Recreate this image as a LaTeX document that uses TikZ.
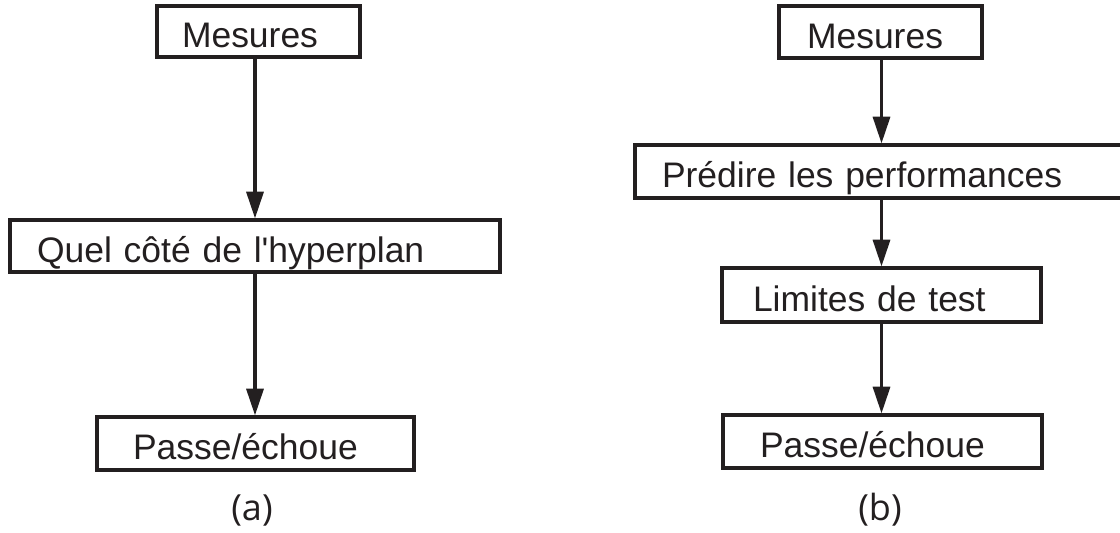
\documentclass[tikz,border=0pt]{standalone}
\usepackage{fontspec}
\setmainfont{Liberation Sans}
\newfontfamily\capfont{Open Sans}
\usetikzlibrary{arrows.meta}
\definecolor{ink}{RGB}{35,31,32}
\tikzset{
  flowbox/.style={draw=ink, text=ink, line width=2.4pt, align=left, inner ysep=0pt,
    text height=24pt, text depth=0pt, font=\fontsize{26.6pt}{30pt}\selectfont},
  flowarrow/.style={draw=ink, line width=2.4pt, -{Triangle[width=12.75pt,length=20pt]}},
  caplabel/.style={text=ink, inner sep=0pt, font=\capfont\fontsize{27pt}{30pt}\selectfont}
}
\begin{document}
\begin{tikzpicture}[x=0.75pt,y=-0.75pt]
\useasboundingbox (0,0) rectangle (1120,532);
\clip (0,0) rectangle (1120,532);
% (a)
\node[flowbox, inner xsep=18.75pt, text width=114.75pt, minimum height=38.25pt] (A1) at (258.5,31.5) {Mesures};
\node[flowbox, inner xsep=20.25pt, text width=327pt, minimum height=39pt] (A2) at (255,246) {Quel côté de l\textquotesingle hyperplan};
\node[flowbox, inner xsep=27pt, text width=183.75pt, minimum height=39.75pt] (A3) at (255.5,443.5) {Passe/échoue};
\node[caplabel] (la) at (252,510) {(a)};
\draw[flowarrow] (A1.south -| A2.north) -- (A2.north);
\draw[flowarrow] (A2.south) -- (A2.south |- A3.north);
% (b)
\node[flowbox, inner xsep=21pt, text width=110.25pt, minimum height=39pt] (B1) at (880.5,32) {Mesures};
\node[flowbox, inner xsep=20.25pt, text width=383.25pt, minimum height=39.75pt] (B2) at (917.5,171.5) {Prédire les performances};
\node[flowbox, inner xsep=23.25pt, text width=192.75pt, minimum height=40.5pt] (B3) at (881.5,295) {Limites de test};
\node[flowbox, inner xsep=27.75pt, text width=183.75pt, minimum height=39.75pt] (B4) at (882.5,441.5) {Passe/échoue};
\node[caplabel] (lb) at (880,510) {(b)};
\draw[flowarrow] (B1.south -| B3.north) -- (B2.north -| B3.north);
\draw[flowarrow] (B2.south -| B3.north) -- (B3.north);
\draw[flowarrow] (B3.south) -- (B3.south |- B4.north);
\end{tikzpicture}
\end{document}
